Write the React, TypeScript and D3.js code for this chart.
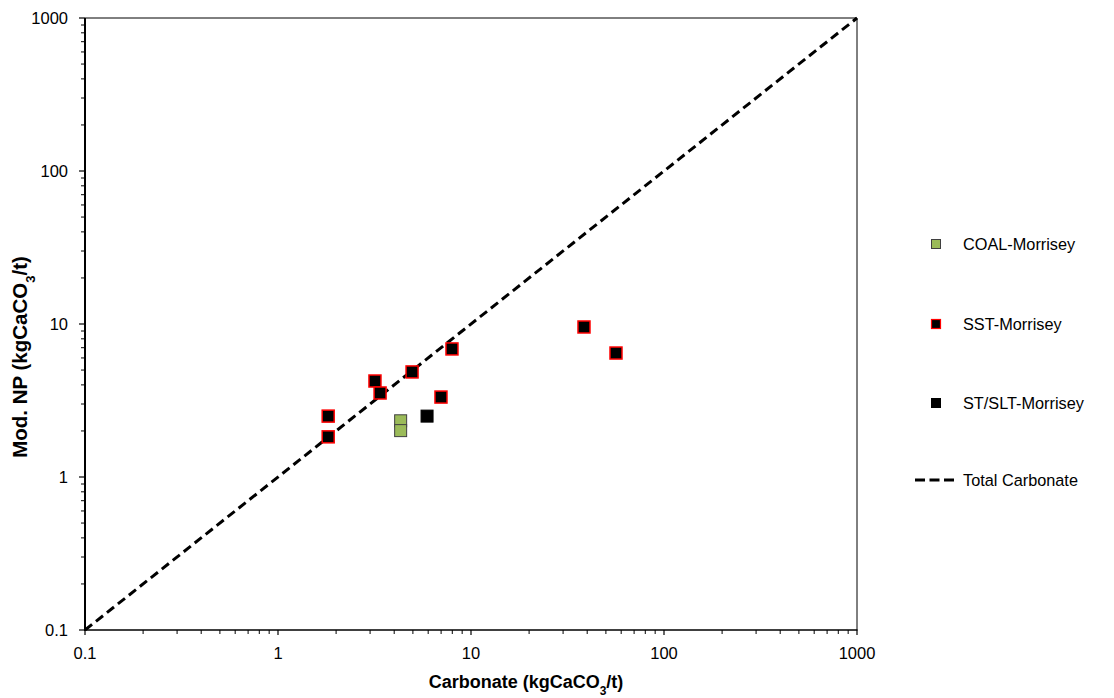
import React from "react";
import * as d3 from "d3";

const coalX = [4.32, 4.32];
const coalY = [2.33, 2.01];
const sstX = [1.82, 1.82, 3.18, 3.38, 4.95, 7.97, 6.99, 38.5, 56.4];
const sstY = [2.5, 1.83, 4.24, 3.54, 4.86, 6.87, 3.33, 9.56, 6.46];
const sltX = [5.92];
const sltY = [2.5];
const lineVals = [0.1, 1000];
const tickVals = [0.1, 1, 10, 100, 1000];
const tickLabels = ["0.1", "1", "10", "100", "1000"];
const legendLabels = ["COAL-Morrisey", "SST-Morrisey", "ST/SLT-Morrisey", "Total Carbonate"];

const W = 1114, H = 698;
const L = 85, R = 857, T = 18, B = 630;

export default function App() {
  const x = d3.scaleLog().domain([0.1, 1000]).range([L, R]);
  const y = d3.scaleLog().domain([0.1, 1000]).range([B, T]);
  const minors: number[] = [];
  for (let d = 0.1; d < 1000; d *= 10) {
    for (let k = 2; k <= 9; k++) minors.push(d * k);
  }
  const font = "Arial, 'Liberation Sans', sans-serif";
  const ms = 12;
  const sq = (cx: number, cy: number, fill: string, stroke: string, sw: number, key: string, s = ms) => (
    <rect key={key} x={cx - s / 2} y={cy - s / 2} width={s} height={s} fill={fill} stroke={stroke} strokeWidth={sw} />
  );
  const line = d3.line<number>().x((v) => x(v)).y((v) => y(v));
  const legY = [244, 324, 403, 480];
  return (
    <svg width={W} height={H} style={{ position: "absolute", left: 0, top: 0, background: "#fff" }} fontFamily={font}>
      <rect x={0} y={0} width={W} height={H} fill="#fff" />
      <path d={line(lineVals) || ""} fill="none" stroke="#000" strokeWidth={3} strokeDasharray="9,5" />
      {/* axes */}
      <line x1={R} y1={T} x2={R} y2={B} stroke="#000" strokeWidth={1} />
      <line x1={L} y1={T} x2={R} y2={T} stroke="#000" strokeWidth={1} />
      <line x1={L} y1={T} x2={L} y2={B + 1} stroke="#000" strokeWidth={2} />
      <line x1={L - 1} y1={B} x2={R + 0.5} y2={B} stroke="#000" strokeWidth={1.5} />
      {tickVals.map((v, i) => (
        <g key={"t" + i}>
          <line x1={x(v)} x2={x(v)} y1={B} y2={B + 5} stroke="#000" strokeWidth={1.2} />
          <line x1={L - 6} x2={L} y1={y(v)} y2={y(v)} stroke="#000" strokeWidth={1.2} />
          <text x={x(v)} y={659} textAnchor="middle" fontSize={16.5} fill="#000">{tickLabels[i]}</text>
          <text x={68} y={y(v) + 6} textAnchor="end" fontSize={16.5} fill="#000">{tickLabels[i]}</text>
        </g>
      ))}
      {minors.map((v, i) => (
        <g key={"m" + i}>
          <line x1={x(v)} x2={x(v)} y1={B} y2={B + 4} stroke="#000" strokeWidth={1} />
          <line x1={L - 4} x2={L} y1={y(v)} y2={y(v)} stroke="#000" strokeWidth={1} />
        </g>
      ))}
      {/* points */}
      {coalX.map((v, i) => sq(x(v), y(coalY[i]), "#9bbb59", "#404040", 1, "c" + i))}
      {sstX.map((v, i) => sq(x(v), y(sstY[i]), "#000", "#ff0000", 1.5, "s" + i))}
      {sltX.map((v, i) => sq(x(v), y(sltY[i]), "#000", "#000", 1, "l" + i))}
      {/* axis titles */}
      <text x={526} y={688} textAnchor="middle" fontSize={18} fontWeight="bold" fill="#000">
        Carbonate (kgCaCO<tspan baselineShift="sub" fontSize={12}>3</tspan>/t)
      </text>
      <text transform={`translate(27,357) rotate(-90)`} textAnchor="middle" fontSize={20.5} fontWeight="bold" fill="#000">
        Mod. NP (kgCaCO<tspan baselineShift="sub" fontSize={13}>3</tspan>/t)
      </text>
      {/* legend */}
      {sq(936, legY[0], "#9bbb59", "#404040", 1, "lg0", 9)}
      {sq(936, legY[1], "#000", "#ff0000", 1.2, "lg1", 9)}
      {sq(936, legY[2], "#000", "#000", 1, "lg2", 9)}
      <line x1={915} x2={958} y1={legY[3]} y2={legY[3]} stroke="#000" strokeWidth={3} strokeDasharray="10,4.5" />
      {legendLabels.map((t, i) => (
        <text key={"lt" + i} x={963} y={legY[i] + 6} fontSize={16.3} fill="#000">{t}</text>
      ))}
    </svg>
  );
}
